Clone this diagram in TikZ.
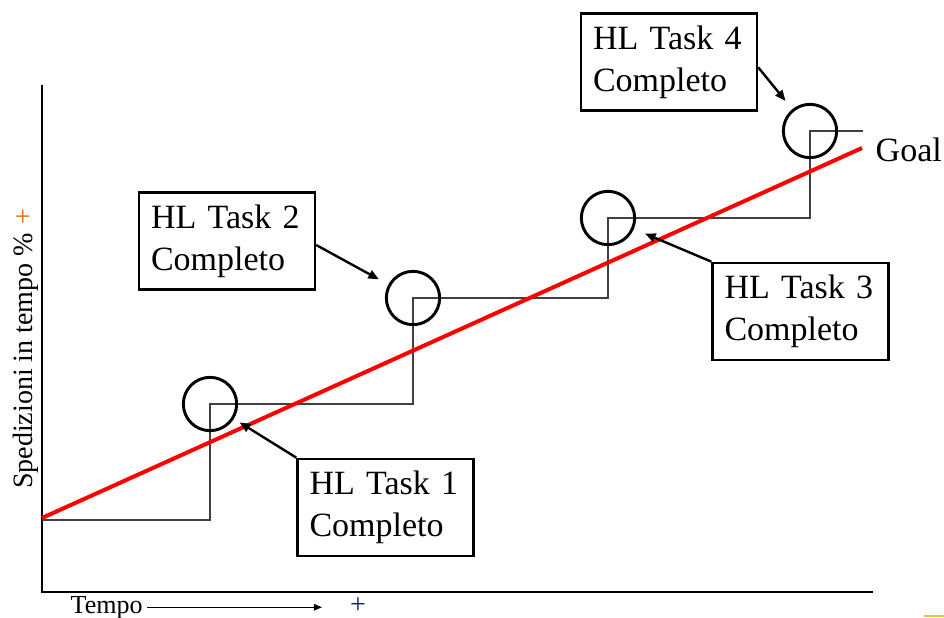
\documentclass[tikz,border=0pt]{standalone}
\usepackage{fontspec}
\setmainfont{Liberation Serif}
\usetikzlibrary{arrows.meta}

\definecolor{plusorange}{RGB}{214,110,20}
\definecolor{plusblue}{RGB}{20,30,120}
\definecolor{slidemark}{RGB}{245,190,70}

\begin{document}
\begin{tikzpicture}[x=0.75pt, y=-0.75pt,
	hlbox/.style={draw, line width=1.8pt, align=left, text width=114pt,
		inner xsep=9pt, minimum height=73pt,
		font=\fontsize{25.5}{31.5}\selectfont},
	milestone/.style={draw, circle, line width=2.2pt, minimum size=40pt, inner sep=0pt},
	pointer/.style={line width=1.8pt, -{Triangle[length=8pt,width=6.5pt]}},
	stepline/.style={line width=0.8pt, black!75},
	axis/.style={line width=1pt}]

% frame %{{{2

	\useasboundingbox (0,0) rectangle (944,617);

% coordinates %{{{2

	\coordinate (O) at (42,592);
	\coordinate (Ytop) at (42,85);
	\coordinate (Xend) at (873,592);

	\coordinate (S0) at (42,520);
	\coordinate (M1) at (210,404);
	\coordinate (M2) at (413,298);
	\coordinate (M3) at (608,218);
	\coordinate (M4) at (810,131);
	\coordinate (S5) at (863,131);

	\coordinate (R0) at (42,518);
	\coordinate (R1) at (862,148);

% axes %{{{2

	\draw[axis] (Ytop) -- (O) -- (Xend);

% steps %{{{2

	\draw[stepline] (S0) -| (M1) -| (M2) -| (M3) -| (M4) -- (S5);

% milestones %{{{2

	\foreach \i in {1,...,4} { \node[milestone] (C\i) at (M\i) {}; }

% trend %{{{2

	\draw[red, line width=3pt] (R0) -- (R1);

% task boxes %{{{2

	\node[hlbox] (T1) at (385.5,507.5) {HL Task 1\\Completo};
	\node[hlbox] (T2) at (227,241) {HL Task 2\\Completo};
	\node[hlbox] (T3) at (800.5,311.5) {HL Task 3\\Completo};
	\node[hlbox] (T4) at (669,62) {HL Task 4\\Completo};

% pointers %{{{2

	\draw[pointer, shorten >=5pt] (T1.north west) -- (C1);
	\draw[pointer, shorten >=8pt] ([yshift=-3pt]T2.east) -- (C2);
	\draw[pointer, shorten >=9pt] (T3.north west) -- (C3);
	\draw[pointer, shorten >=8pt] ([yshift=-4pt]T4.east) -- (C4);

% labels %{{{2

	\node[anchor=base west, font=\fontsize{25.5}{30}\selectfont] (goal) at (871,161) {Goal};

	\node[rotate=90, anchor=base, font=\fontsize{21}{25}\selectfont] (ylab) at (32,361) {Spedizioni in tempo \%};
	\node[rotate=90, anchor=base, text=plusorange, font=\fontsize{21}{25}\selectfont] (yplus) at (32,217) {+};

	\node[anchor=base west, font=\fontsize{19.5}{23}\selectfont] (xlab) at (66,613) {Tempo};
	\node[inner sep=0pt, text=plusblue, font=\fontsize{21}{21}\selectfont] (xplus) at (358,606) {+};
	\draw[-{Triangle[length=6pt,width=5pt]}, line width=0.7pt, shorten >=21pt] (xlab.east) -- (xlab.east -| xplus.west);

% slide mark %{{{2

	\draw[slidemark, line width=1.5pt] (924,616) -- (944,616);

% closing %{{{2

\end{tikzpicture}
\end{document}
